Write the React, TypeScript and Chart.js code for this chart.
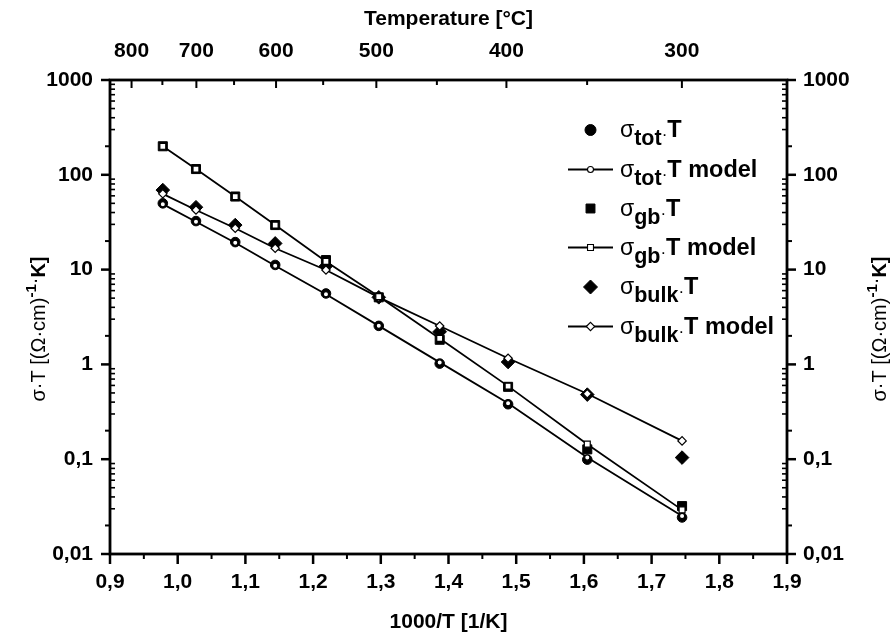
import React, { useEffect, useRef } from 'react';
import { Chart, registerables } from 'chart.js';

Chart.register(...registerables);

const W = 894;
const H = 637;
const FONT = '"Liberation Sans", Arial, Helvetica, sans-serif';

// 1000/T [1/K] positions of the measurements (750 ... 300 °C)
const invTemperature = [0.978, 1.027, 1.085, 1.144, 1.219, 1.297, 1.387, 1.488, 1.605, 1.745];

const sigmaTotT = [50, 32.5, 19.5, 11.2, 5.6, 2.55, 1.02, 0.38, 0.099, 0.0243];
const sigmaTotTModel = [49, 32, 19.2, 11, 5.5, 2.55, 1.05, 0.39, 0.104, 0.0252];
const sigmaGbT = [200, 115, 59, 29.5, 12.6, 5.1, 1.82, 0.58, 0.127, 0.032];
const sigmaGbTModel = [200, 115, 59, 29.5, 12.2, 5.2, 1.88, 0.59, 0.144, 0.0292];
const sigmaBulkT = [69, 45.5, 29.5, 18.9, 10.9, 5.1, 2.21, 1.06, 0.48, 0.104];
const sigmaBulkTModel = [63, 42.5, 27.3, 16.8, 9.9, 5.1, 2.54, 1.16, 0.49, 0.156];

const xTicks = [0.9, 1.0, 1.1, 1.2, 1.3, 1.4, 1.5, 1.6, 1.7, 1.8, 1.9];
const xTickLabels = ['0,9', '1,0', '1,1', '1,2', '1,3', '1,4', '1,5', '1,6', '1,7', '1,8', '1,9'];
const xMinorTicks = [0.95, 1.05, 1.15, 1.25, 1.35, 1.45, 1.55, 1.65, 1.75, 1.85];
const yTicks = [0.01, 0.1, 1, 10, 100, 1000];
const yTickLabels = ['0,01', '0,1', '1', '10', '100', '1000'];
const topTempTicks = [800, 700, 600, 500, 400, 300];
const topTempMinorTicks = [750, 650, 550, 450, 350];

const legendSubscripts = ['tot', 'tot', 'gb', 'gb', 'bulk', 'bulk'];
const legendIsModel = [false, true, false, true, false, true];
const legendShapes = ['circle', 'circle', 'rect', 'rect', 'rectRot', 'rectRot'];

const tempToInv = (t: number) => 1000 / (t + 273.15);
const pts = (xs: number[], ys: number[]) => xs.map((x, i) => ({ x, y: ys[i] }));

function drawMarker(ctx: CanvasRenderingContext2D, shape: string, x: number, y: number, r: number, filled: boolean, bw: number) {
  ctx.beginPath();
  if (shape === 'circle') {
    ctx.arc(x, y, r, 0, Math.PI * 2);
  } else if (shape === 'rect') {
    const s = r * Math.SQRT1_2;
    ctx.rect(x - s, y - s, 2 * s, 2 * s);
  } else {
    ctx.moveTo(x - r, y);
    ctx.lineTo(x, y - r);
    ctx.lineTo(x + r, y);
    ctx.lineTo(x, y + r);
    ctx.closePath();
  }
  ctx.fillStyle = filled ? '#000' : '#fff';
  ctx.fill();
  ctx.lineWidth = bw;
  ctx.strokeStyle = '#000';
  ctx.stroke();
}

const framePlugin = {
  id: 'frameTicks',
  afterDatasetsDraw(chart: any) {
    const { ctx, chartArea } = chart;
    const { left, right, top, bottom } = chartArea;
    const xs = chart.scales.x;
    const ys = chart.scales.y;
    ctx.save();
    ctx.strokeStyle = '#000';
    const seg = (x1: number, y1: number, x2: number, y2: number, w: number) => {
      ctx.lineWidth = w;
      ctx.beginPath();
      ctx.moveTo(x1, y1);
      ctx.lineTo(x2, y2);
      ctx.stroke();
    };
    xTicks.forEach((v) => {
      const px = xs.getPixelForValue(v);
      seg(px, bottom, px, bottom + 10, 2.5);
    });
    xMinorTicks.forEach((v) => {
      const px = xs.getPixelForValue(v);
      seg(px, bottom, px, bottom + 5, 2);
    });
    topTempTicks.forEach((t) => {
      const px = xs.getPixelForValue(tempToInv(t));
      seg(px, top, px, top + 8, 2);
    });
    topTempMinorTicks.forEach((t) => {
      const px = xs.getPixelForValue(tempToInv(t));
      seg(px, top, px, top + 5, 2);
    });
    yTicks.forEach((v) => {
      const py = ys.getPixelForValue(v);
      seg(left - 9, py, left, py, 2.5);
      seg(right, py, right + 9, py, 2.5);
    });
    for (let d = 0; d < yTicks.length - 1; d++) {
      const dec = yTicks[d];
      for (let k = 2; k <= 9; k++) {
        const py = ys.getPixelForValue(k * dec);
        if (k === 2) {
          seg(left - 5, py, left, py, 2);
          seg(right, py, right + 5, py, 2);
        } else {
          seg(left, py, left + 5, py, 1.6);
          seg(right - 5, py, right, py, 1.6);
        }
      }
    }
    ctx.lineWidth = 2.8;
    ctx.strokeRect(left, top, right - left, bottom - top);
    ctx.restore();
  },
};

function drawYTitle(ctx: CanvasRenderingContext2D, baseX: number, cy: number) {
  const segs = [
    { t: 'σ·T [(Ω·cm)', f: `20px ${FONT}`, dy: 0 },
    { t: '-1', f: `bold 15px ${FONT}`, dy: -9 },
    { t: '·', f: `20px ${FONT}`, dy: -4 },
    { t: 'K]', f: `bold 20px ${FONT}`, dy: 0 },
  ];
  ctx.save();
  ctx.translate(baseX, cy);
  ctx.rotate(-Math.PI / 2);
  ctx.fillStyle = '#000';
  ctx.textBaseline = 'alphabetic';
  ctx.textAlign = 'left';
  let total = 0;
  const widths = segs.map((s) => {
    ctx.font = s.f;
    const w = ctx.measureText(s.t).width;
    total += w;
    return w;
  });
  let x = -total / 2;
  segs.forEach((s, i) => {
    ctx.font = s.f;
    ctx.fillText(s.t, x, s.dy);
    x += widths[i];
  });
  ctx.restore();
}

const textPlugin = {
  id: 'richText',
  afterDraw(chart: any) {
    const ctx: CanvasRenderingContext2D = chart.ctx;
    const { top, bottom } = chart.chartArea;
    const cy = (top + bottom) / 2 + 12;
    drawYTitle(ctx, 45, cy);
    drawYTitle(ctx, 886, cy);

    const rowY = [130, 169.5, 208.5, 247.5, 287, 326.5];
    const markerX = 590.5;
    const textX = 620;
    ctx.save();
    ctx.textBaseline = 'alphabetic';
    ctx.textAlign = 'left';
    ctx.fillStyle = '#000';
    legendSubscripts.forEach((sub, i) => {
      const y = rowY[i];
      const model = legendIsModel[i];
      const shape = legendShapes[i];
      if (model) {
        ctx.strokeStyle = '#000';
        ctx.lineWidth = 1.8;
        ctx.beginPath();
        ctx.moveTo(568, y);
        ctx.lineTo(613, y);
        ctx.stroke();
        drawMarker(ctx, shape, markerX, y, shape === 'circle' ? 3 : 4.2, false, 1.1);
      } else {
        drawMarker(ctx, shape, markerX, y, shape === 'circle' ? 5.5 : shape === 'rect' ? 6.3 : 7, true, 1);
      }
      const base = y + 7;
      let x = textX;
      ctx.fillStyle = '#000';
      ctx.font = `23px ${FONT}`;
      ctx.fillText('σ', x, base);
      x += ctx.measureText('σ').width;
      ctx.font = `bold 21.5px ${FONT}`;
      ctx.fillText(sub, x, base + 8);
      x += ctx.measureText(sub).width;
      ctx.font = `17px ${FONT}`;
      ctx.fillText('·', x, base + 3);
      x += ctx.measureText('·').width;
      ctx.font = `bold 23.5px ${FONT}`;
      ctx.fillText(model ? 'T model' : 'T', x, base);
    });
    ctx.restore();
  },
};

export default function App() {
  const ref = useRef<HTMLCanvasElement | null>(null);
  useEffect(() => {
    if (!ref.current) return;
    Chart.defaults.font.family = FONT;
    const tickFont = { family: FONT, size: 21, weight: 'bold' as const };
    const titleFont = { family: FONT, size: 21, weight: 'bold' as const };
    const filled = (data: number[], style: string, r: number) => ({
      data: pts(invTemperature, data),
      showLine: false,
      pointStyle: style,
      pointRadius: r,
      pointBackgroundColor: '#000',
      pointBorderColor: '#000',
      pointBorderWidth: 1,
      backgroundColor: '#000',
      borderColor: '#000',
      xAxisID: 'x',
      yAxisID: 'y',
      order: 1,
    });
    const model = (data: number[], style: string, r: number) => ({
      data: pts(invTemperature, data),
      showLine: true,
      tension: 0,
      borderColor: '#000',
      borderWidth: 1.8,
      pointStyle: style,
      pointRadius: r,
      pointBackgroundColor: '#fff',
      pointBorderColor: '#000',
      pointBorderWidth: 1.2,
      xAxisID: 'x',
      yAxisID: 'y',
      order: 0,
    });
    const chart = new Chart(ref.current, {
      type: 'scatter',
      data: {
        datasets: [
          { label: 'σtot·T', ...filled(sigmaTotT, 'circle', 4.8) },
          { label: 'σtot·T model', ...model(sigmaTotTModel, 'circle', 2.6) },
          { label: 'σgb·T', ...filled(sigmaGbT, 'rect', 6.4) },
          { label: 'σgb·T model', ...model(sigmaGbTModel, 'rect', 4.2) },
          { label: 'σbulk·T', ...filled(sigmaBulkT, 'rectRot', 6.8) },
          { label: 'σbulk·T model', ...model(sigmaBulkTModel, 'rectRot', 4.2) },
        ] as any,
      },
      options: {
        responsive: false,
        animation: false,
        devicePixelRatio: 1,
        layout: { padding: 0 },
        plugins: { legend: { display: false }, tooltip: { enabled: false } },
        scales: {
          x: {
            type: 'linear',
            position: 'bottom',
            min: 0.9,
            max: 1.9,
            grid: { display: false, drawTicks: false },
            border: { display: false },
            afterBuildTicks: (s: any) => {
              s.ticks = xTicks.map((v) => ({ value: v }));
            },
            ticks: {
              callback: (_v: any, i: number) => xTickLabels[i],
              font: tickFont,
              color: '#000',
              padding: 16,
              autoSkip: false,
              maxRotation: 0,
            },
            title: { display: true, text: '1000/T [1/K]', font: titleFont, color: '#000', padding: { top: 0, bottom: 2 } },
            afterFit: (s: any) => {
              s.height = 83;
            },
          },
          x2: {
            type: 'linear',
            position: 'top',
            min: 0.9,
            max: 1.9,
            grid: { display: false, drawTicks: false },
            border: { display: false },
            afterBuildTicks: (s: any) => {
              s.ticks = topTempTicks.map((t) => ({ value: tempToInv(t) }));
            },
            ticks: {
              callback: (_v: any, i: number) => String(topTempTicks[i]),
              font: tickFont,
              color: '#000',
              padding: 16,
              autoSkip: false,
              maxRotation: 0,
            },
            title: { display: true, text: 'Temperature [°C]', font: titleFont, color: '#000', padding: { top: 7, bottom: 0 } },
            afterFit: (s: any) => {
              s.height = 80;
            },
          },
          y: {
            type: 'logarithmic',
            position: 'left',
            min: 0.01,
            max: 1000,
            grid: { display: false, drawTicks: false },
            border: { display: false },
            afterBuildTicks: (s: any) => {
              s.ticks = yTicks.map((v) => ({ value: v }));
            },
            ticks: {
              callback: (_v: any, i: number) => yTickLabels[i],
              font: tickFont,
              color: '#000',
              padding: 17,
              autoSkip: false,
            },
            afterFit: (s: any) => {
              s.width = 110;
            },
          },
          y2: {
            type: 'logarithmic',
            position: 'right',
            min: 0.01,
            max: 1000,
            grid: { display: false, drawTicks: false },
            border: { display: false },
            afterBuildTicks: (s: any) => {
              s.ticks = yTicks.map((v) => ({ value: v }));
            },
            ticks: {
              callback: (_v: any, i: number) => yTickLabels[i],
              font: tickFont,
              color: '#000',
              padding: 16,
              autoSkip: false,
            },
            afterFit: (s: any) => {
              s.width = 107;
            },
          },
        } as any,
      },
      plugins: [framePlugin, textPlugin],
    });
    return () => chart.destroy();
  }, []);
  return (
    <div style={{ position: 'fixed', left: 0, top: 0, width: W, height: H, background: '#fff' }}>
      <canvas ref={ref} width={W} height={H} style={{ display: 'block', width: W, height: H }} />
    </div>
  );
}
